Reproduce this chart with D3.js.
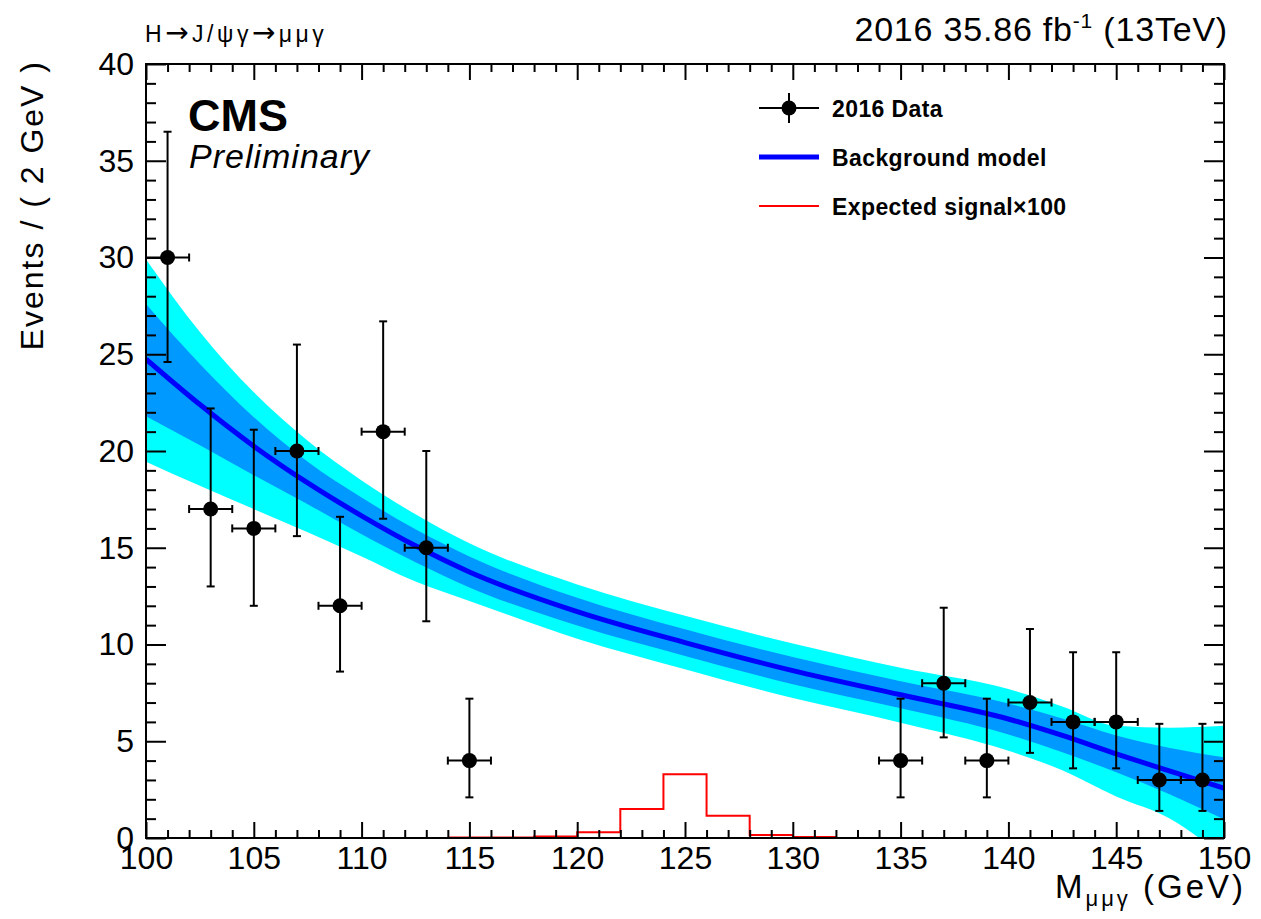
<!DOCTYPE html>
<html>
<head>
<meta charset="utf-8">
<script src="https://cdn.jsdelivr.net/npm/d3@7"></script>
<style>
  body { margin: 0; background: #fff; }
  svg { font-family: "Liberation Sans", Arial, Helvetica, sans-serif; }
</style>
</head>
<body>
<svg id="chart"></svg>
<script>
// 2016 data, 2 GeV bins (empty bins are not drawn)
const dataMass = [101, 103, 105, 107, 109, 111, 113, 115, 135, 137, 139, 141, 143, 145, 147, 149];
const dataEvents = [30, 17, 16, 20, 12, 21, 15, 4, 4, 8, 4, 7, 6, 6, 3, 3];
const dataLow = [24.6, 13.0, 12.0, 15.6, 8.6, 16.5, 11.2, 2.1, 2.1, 5.2, 2.1, 4.4, 3.6, 3.6, 1.4, 1.4];
const dataHigh = [36.5, 22.2, 21.1, 25.5, 16.6, 26.7, 20.0, 7.2, 7.2, 11.9, 7.2, 10.8, 9.6, 9.6, 5.9, 5.9];
const binHalfWidth = 1;

// background model and its 1 / 2 sigma bands
const bkgMass = [100, 102.5, 105, 107.5, 110, 112.5, 115, 120, 125, 130, 135, 140, 142.5, 145, 147.5, 150];
const bkgFit = [24.75, 22.4, 20.25, 18.35, 16.65, 15.1, 13.75, 11.7, 10.1, 8.65, 7.4, 6.15, 5.3, 4.35, 3.45, 2.57];
const bkgLow1 = [21.8, 20.3, 18.75, 17.25, 15.7, 14.25, 12.95, 10.98, 9.41, 7.95, 6.7, 5.35, 4.43, 3.4, 2.25, 0.97];
const bkgHigh1 = [27.6, 24.5, 21.75, 19.45, 17.6, 15.95, 14.55, 12.42, 10.79, 9.35, 8.1, 6.95, 6.17, 5.3, 4.65, 4.17];
const bkgLow2 = [19.45, 18.2, 17.0, 15.8, 14.55, 13.25, 12.25, 10.3, 8.72, 7.23, 5.96, 4.51, 3.5, 2.15, 1.0, -1.0];
const bkgHigh2 = [29.9, 26.15, 23.03, 20.53, 18.48, 16.73, 15.23, 13.1, 11.48, 10.05, 8.8, 7.7, 6.8, 5.8, 5.7, 5.8];

// expected signal x100 histogram
const sigEdges = [114, 116, 118, 120, 122, 124, 126, 128, 130, 132];
const sigEvents = [0.02, 0.03, 0.08, 0.3, 1.5, 3.3, 1.15, 0.15, 0.05];

const xMajor = [100, 105, 110, 115, 120, 125, 130, 135, 140, 145, 150];
const yMajor = [0, 5, 10, 15, 20, 25, 30, 35, 40];

const width = 1261, height = 919;
const plotLeft = 146, plotRight = 1224, plotTop = 64, plotBottom = 838;

const svg = d3.select("#chart").attr("width", width).attr("height", height);

const x = d3.scaleLinear().domain([100, 150]).range([plotLeft, plotRight]);
const y = d3.scaleLinear().domain([0, 40]).range([plotBottom, plotTop]);

svg.append("clipPath").attr("id", "plotClip")
  .append("rect").attr("x", plotLeft).attr("y", plotTop)
  .attr("width", plotRight - plotLeft).attr("height", plotBottom - plotTop);

const plot = svg.append("g").attr("clip-path", "url(#plotClip)");
const bkgIdx = d3.range(bkgMass.length);
const curve = d3.curveMonotoneX;

// bands
const band = (lo, hi) => d3.area()
  .x(i => x(bkgMass[i]))
  .y0(i => y(lo[i]))
  .y1(i => y(hi[i]))
  .curve(curve);

plot.append("path").attr("d", band(bkgLow2, bkgHigh2)(bkgIdx)).attr("fill", "#00ffff");
plot.append("path").attr("d", band(bkgLow1, bkgHigh1)(bkgIdx)).attr("fill", "#0099ff");

plot.append("path")
  .attr("d", d3.line().x(i => x(bkgMass[i])).y(i => y(bkgFit[i])).curve(curve)(bkgIdx))
  .attr("fill", "none")
  .attr("stroke", "#0000ff")
  .attr("stroke-width", 5);

// signal histogram
const sigPts = sigEvents.map((v, i) => [sigEdges[i], v]);
sigPts.push([sigEdges[sigEdges.length - 1], sigEvents[sigEvents.length - 1]]);
plot.append("path")
  .attr("d", d3.line().x(d => x(d[0])).y(d => y(d[1])).curve(d3.curveStepAfter)(sigPts))
  .attr("fill", "none")
  .attr("stroke", "#ff0000")
  .attr("stroke-width", 2);

// axes, ROOT style ticks on all four sides
const xMinor = d3.range(100, 151, 1).filter(v => v % 5 !== 0);
const yMinor = d3.range(0, 41, 1).filter(v => v % 5 !== 0);

const axisG = svg.append("g");
axisG.append("g").attr("transform", `translate(0,${plotBottom})`)
  .call(d3.axisBottom(x).tickValues(xMajor).tickSize(-16).tickPadding(8).tickFormat(d3.format("d")));
axisG.append("g").attr("transform", `translate(0,${plotBottom})`)
  .call(d3.axisBottom(x).tickValues(xMinor).tickSize(-8).tickFormat(""));
axisG.append("g").attr("transform", `translate(0,${plotTop})`)
  .call(d3.axisTop(x).tickValues(xMajor).tickSize(-16).tickFormat(""));
axisG.append("g").attr("transform", `translate(0,${plotTop})`)
  .call(d3.axisTop(x).tickValues(xMinor).tickSize(-8).tickFormat(""));
axisG.append("g").attr("transform", `translate(${plotLeft},0)`)
  .call(d3.axisLeft(y).tickValues(yMajor).tickSize(-20).tickPadding(12).tickFormat(d3.format("d")));
axisG.append("g").attr("transform", `translate(${plotLeft},0)`)
  .call(d3.axisLeft(y).tickValues(yMinor).tickSize(-10).tickFormat(""));
axisG.append("g").attr("transform", `translate(${plotRight},0)`)
  .call(d3.axisRight(y).tickValues(yMajor).tickSize(-20).tickFormat(""));
axisG.append("g").attr("transform", `translate(${plotRight},0)`)
  .call(d3.axisRight(y).tickValues(yMinor).tickSize(-10).tickFormat(""));

axisG.selectAll(".domain").remove();
axisG.selectAll(".tick line").attr("stroke", "#000").attr("stroke-width", 2);
axisG.selectAll("g").attr("font-family", null).attr("font-size", null);
axisG.selectAll(".tick text").attr("font-size", 32).attr("fill", "#000");

svg.append("rect")
  .attr("x", plotLeft).attr("y", plotTop)
  .attr("width", plotRight - plotLeft).attr("height", plotBottom - plotTop)
  .attr("fill", "none").attr("stroke", "#000").attr("stroke-width", 2);

// data points with error bars
const pts = svg.append("g").selectAll("g").data(dataMass).enter().append("g");
pts.append("line")
  .attr("x1", (d, i) => x(d)).attr("x2", (d, i) => x(d))
  .attr("y1", (d, i) => y(dataLow[i])).attr("y2", (d, i) => y(dataHigh[i]));
pts.append("line")
  .attr("x1", (d, i) => x(d - binHalfWidth)).attr("x2", (d, i) => x(d + binHalfWidth))
  .attr("y1", (d, i) => y(dataEvents[i])).attr("y2", (d, i) => y(dataEvents[i]));
// end caps
pts.append("line")
  .attr("x1", (d, i) => x(d) - 4).attr("x2", (d, i) => x(d) + 4)
  .attr("y1", (d, i) => y(dataLow[i])).attr("y2", (d, i) => y(dataLow[i]));
pts.append("line")
  .attr("x1", (d, i) => x(d) - 4).attr("x2", (d, i) => x(d) + 4)
  .attr("y1", (d, i) => y(dataHigh[i])).attr("y2", (d, i) => y(dataHigh[i]));
pts.append("line")
  .attr("x1", (d, i) => x(d - binHalfWidth)).attr("x2", (d, i) => x(d - binHalfWidth))
  .attr("y1", (d, i) => y(dataEvents[i]) - 4).attr("y2", (d, i) => y(dataEvents[i]) + 4);
pts.append("line")
  .attr("x1", (d, i) => x(d + binHalfWidth)).attr("x2", (d, i) => x(d + binHalfWidth))
  .attr("y1", (d, i) => y(dataEvents[i]) - 4).attr("y2", (d, i) => y(dataEvents[i]) + 4);
pts.selectAll("line").attr("stroke", "#000").attr("stroke-width", 2);
pts.append("circle")
  .attr("cx", (d, i) => x(d)).attr("cy", (d, i) => y(dataEvents[i]))
  .attr("r", 7.5).attr("fill", "#000");

// legend
const leg = svg.append("g");
leg.append("line").attr("x1", 759).attr("x2", 819).attr("y1", 108).attr("y2", 108)
  .attr("stroke", "#000").attr("stroke-width", 2);
leg.append("line").attr("x1", 789).attr("x2", 789).attr("y1", 93).attr("y2", 123)
  .attr("stroke", "#000").attr("stroke-width", 2);
leg.append("circle").attr("cx", 789).attr("cy", 108).attr("r", 7.5).attr("fill", "#000");
leg.append("line").attr("x1", 759).attr("x2", 819).attr("y1", 157).attr("y2", 157)
  .attr("stroke", "#0000ff").attr("stroke-width", 5);
leg.append("line").attr("x1", 759).attr("x2", 819).attr("y1", 206).attr("y2", 206)
  .attr("stroke", "#ff0000").attr("stroke-width", 2);

const legLabels = ["2016 Data", "Background model", "Expected signal\u00d7100"];
leg.selectAll("text.lab").data(legLabels).enter().append("text")
  .attr("x", 832)
  .attr("y", (d, i) => 117 + i * 49)
  .attr("font-size", 23)
  .attr("letter-spacing", 0.4)
  .attr("font-weight", "bold")
  .text(d => d);

// labels
svg.append("text").attr("x", 188).attr("y", 131)
  .attr("font-size", 45).attr("font-weight", "bold").text("CMS");
svg.append("text").attr("x", 189).attr("y", 168)
  .attr("font-size", 34).attr("letter-spacing", 1).attr("font-style", "italic").text("Preliminary");

const chan = svg.append("text").attr("x", 145).attr("y", 42)
  .attr("font-size", 23).attr("letter-spacing", 3.5);
chan.append("tspan").text("H");
chan.append("tspan").attr("font-family", "DejaVu Sans").attr("font-size", 28).text("\u2192");
chan.append("tspan").text("J/\u03c8\u03b3");
chan.append("tspan").attr("font-family", "DejaVu Sans").attr("font-size", 28).text("\u2192");
chan.append("tspan").text("\u03bc\u03bc\u03b3");

const lumi = svg.append("text").attr("x", 1228).attr("y", 41)
  .attr("text-anchor", "end").attr("font-size", 34).attr("letter-spacing", 0.8);
lumi.append("tspan").text("2016 35.86 fb");
lumi.append("tspan").attr("font-size", 21).attr("dy", -13).text("-1");
lumi.append("tspan").attr("dy", 13).text(" (13TeV)");

const xTitle = svg.append("text").attr("x", 1246).attr("y", 898)
  .attr("text-anchor", "end").attr("font-size", 33).attr("letter-spacing", 3);
xTitle.append("tspan").text("M");
xTitle.append("tspan").attr("font-size", 22).attr("dy", 8).text("\u03bc\u03bc\u03b3");
xTitle.append("tspan").attr("dy", -8).text(" (GeV)");

svg.append("text")
  .attr("transform", "translate(43,60) rotate(-90)")
  .attr("text-anchor", "end")
  .attr("font-size", 32)
  .attr("letter-spacing", 2)
  .text("Events / ( 2 GeV )");
</script>
</body>
</html>
